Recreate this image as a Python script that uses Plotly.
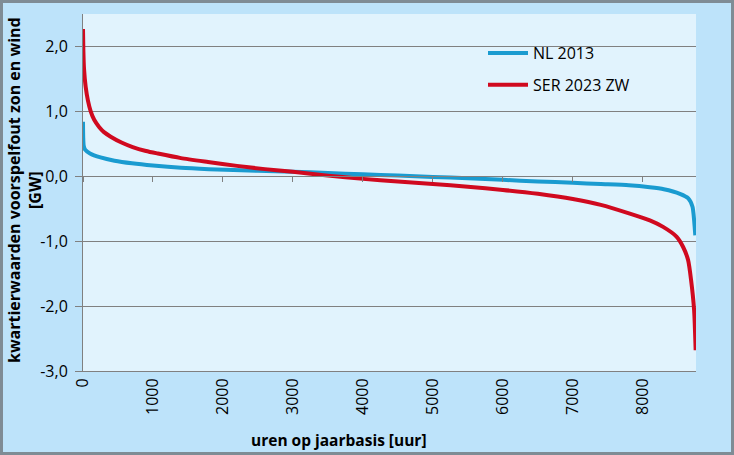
import plotly.graph_objects as go

# NL 2013 duration curve (hours, GW)
nl_hours = [0, 3, 10, 30, 100, 250, 450, 700, 1000, 1400, 1800, 2500, 3000, 3500, 4000, 4500, 5000,
            5500, 6000, 6500, 7000, 7400, 7800, 8100, 8300, 8530, 8650, 8710, 8735, 8750]
nl_values = [0.84, 0.6, 0.47, 0.41, 0.35, 0.29, 0.24, 0.20, 0.165, 0.13, 0.11, 0.085, 0.07, 0.05, 0.03, 0.01, -0.01,
             -0.03, -0.055, -0.08, -0.10, -0.12, -0.14, -0.17, -0.20, -0.27, -0.34, -0.47, -0.70, -0.91]

# SER 2023 ZW duration curve
ser_hours = [0, 5, 15, 38, 70, 110, 160, 230, 300, 396, 550, 710, 900, 1070, 1400, 1786, 2200, 2600, 3000,
             3500, 4000, 4500, 5000, 5500, 6000, 6500, 7000, 7400, 7814, 8100, 8290, 8481, 8576, 8647, 8690,
             8733, 8755]
ser_values = [2.27, 1.95, 1.65, 1.38, 1.17, 1.0, 0.87, 0.76, 0.68, 0.61, 0.52, 0.45, 0.39, 0.35, 0.28, 0.22, 0.16,
              0.11, 0.07, 0.01, -0.04, -0.08, -0.12, -0.16, -0.21, -0.27, -0.35, -0.44, -0.575, -0.68, -0.78,
              -0.93, -1.09, -1.29, -1.6, -2.06, -2.68]

x_ticks = [0, 1000, 2000, 3000, 4000, 5000, 6000, 7000, 8000]
x_tick_labels = ["0", "1000", "2000", "3000", "4000", "5000", "6000", "7000", "8000"]
y_ticks = [-3, -2, -1, 0, 1, 2]
y_tick_labels = ["-3,0", "-2,0", "-1,0", "0,0", "1,0", "2,0"]

FONT = "Open Sans"
BLUE = "#1A9BD0"
RED = "#D0091F"
GRID = "#808080"
PLOT_BG = "#E1F3FD"

PW, PH = 613, 357  # plot area size in px
L, T = 83, 14


def px_x(p):
    return (p - L) / PW


def px_y(p):
    return (T + PH - p) / PH


fig = go.Figure()
fig.add_trace(go.Scatter(x=nl_hours, y=nl_values, mode="lines", name="NL 2013",
                         line=dict(color=BLUE, width=4, shape="spline", smoothing=0.6), legendgroup="a"))
fig.add_trace(go.Scatter(x=ser_hours, y=ser_values, mode="lines", name="SER 2023 ZW",
                         line=dict(color=RED, width=4, shape="spline", smoothing=0.6), legendgroup="b"))

fig.update_layout(
    width=734, height=455,
    margin=dict(l=83, r=38, t=14, b=84),
    paper_bgcolor="#BDE3FA",
    plot_bgcolor=PLOT_BG,
    font=dict(family=FONT, size=16, color="#000000"),
    showlegend=True,
    legend=dict(x=px_x(483), y=px_y(36), xanchor="left", yanchor="top",
                bgcolor="rgba(0,0,0,0)", borderwidth=0,
                font=dict(family=FONT, size=16),
                tracegroupgap=8, traceorder="grouped",
                itemwidth=40),
    xaxis=dict(range=[0, 8760], tickvals=x_ticks, ticktext=x_tick_labels,
               tickangle=-90, showgrid=False, zeroline=False,
               showline=True, linecolor=GRID, linewidth=1, ticks="",
               tickfont=dict(family=FONT, size=16)),
    xaxis2=dict(range=[0, 8760], overlaying="x", anchor="free", position=3/5.5,
                tickvals=x_ticks, showticklabels=False, ticks="outside", ticklen=5,
                tickcolor=GRID, showline=True, linecolor=GRID, linewidth=1,
                showgrid=False, zeroline=False),
    yaxis=dict(range=[-3, 2.5], tickvals=y_ticks, ticktext=y_tick_labels,
               showgrid=True, gridcolor=GRID, gridwidth=1, zeroline=False,
               showline=True, linecolor=GRID, linewidth=1,
               ticks="outside", ticklen=7, tickcolor=GRID, ticklabelstandoff=4,
               tickfont=dict(family=FONT, size=16)),
    annotations=[
        dict(text="<b>kwartierwaarden voorspelfout zon en wind<br>[GW]</b>",
             xref="paper", yref="paper", x=px_x(24), y=px_y(190),
             xanchor="center", yanchor="middle", textangle=-90, showarrow=False,
             font=dict(family=FONT, size=16)),
        dict(text="<b>uren op jaarbasis [uur]</b>",
             xref="paper", yref="paper", x=px_x(339), y=px_y(440),
             xanchor="center", yanchor="middle", showarrow=False,
             font=dict(family=FONT, size=15.5)),
    ],
    shapes=[
        dict(type="rect", xref="paper", yref="paper",
             x0=px_x(437), x1=px_x(680), y0=px_y(105), y1=px_y(30),
             line=dict(width=0), fillcolor=PLOT_BG, layer="between"),
        dict(type="rect", xref="paper", yref="paper",
             x0=px_x(1.5), x1=px_x(732.5), y0=px_y(453.5), y1=px_y(1.5),
             line=dict(color="#7F8C95", width=3), fillcolor="rgba(0,0,0,0)", layer="above"),
    ],
)
# empty trace so the zero-line x axis (ticks at y=0) is drawn
fig.add_trace(go.Scatter(x=[None], y=[None], xaxis="x2", showlegend=False))

fig.write_html("out.html")
